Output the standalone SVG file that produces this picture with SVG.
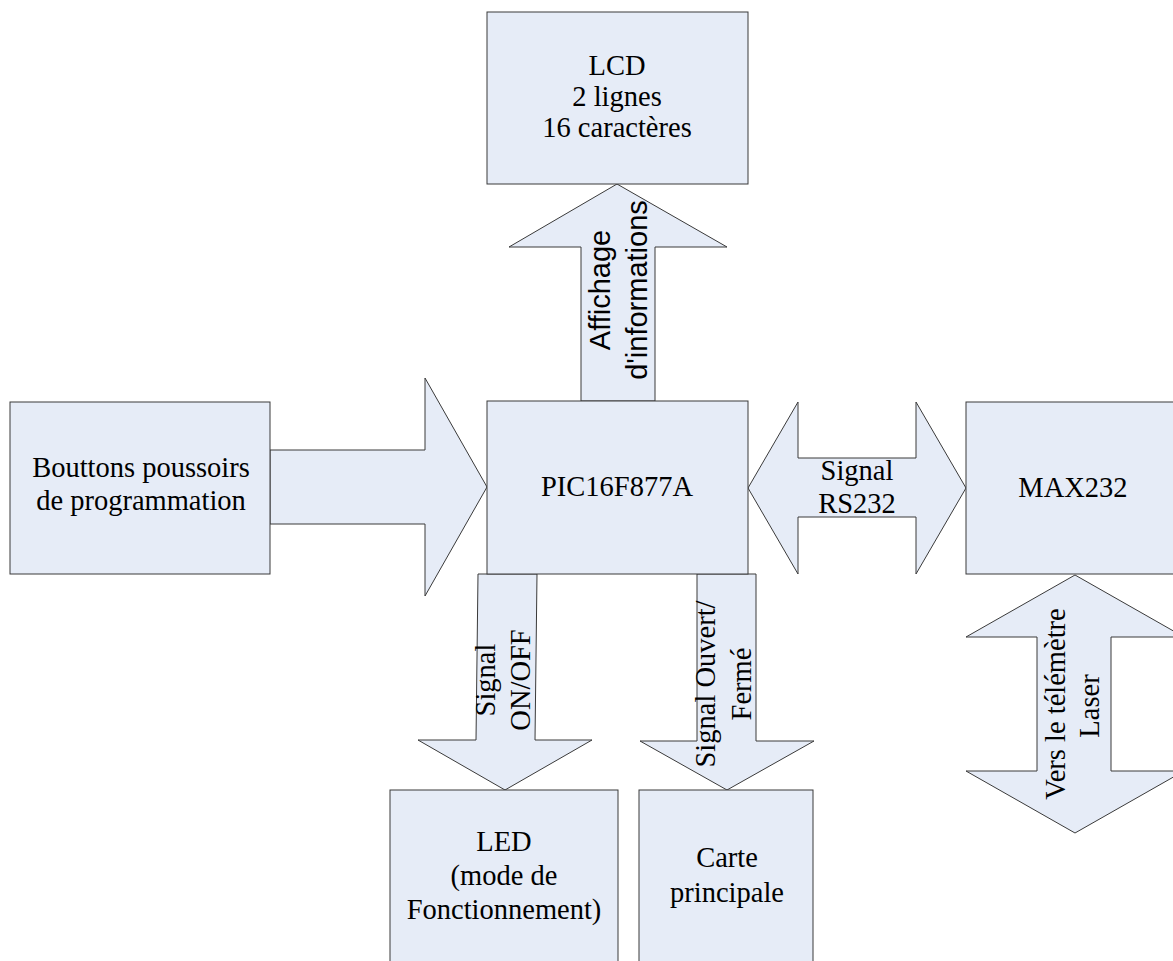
<svg xmlns="http://www.w3.org/2000/svg" width="1173" height="961" viewBox="0 0 1173 961">
<style>
.shape{fill:#E6ECF7;stroke:#3a3a3a;stroke-width:1}
.t{font-family:"Liberation Serif","Times New Roman",serif;font-size:28.5px;fill:#000;text-anchor:middle}
.s{font-family:"Liberation Sans",Arial,sans-serif;font-size:29px;fill:#000;text-anchor:middle}
</style>
<rect width="1173" height="961" fill="#fff"/>
<g id="connectors">
  <g id="arrow-affichage">
    <polygon class="shape" points="581,401 581,247 509,247 617,184 727,247 655,247 655,401"/>
    <g transform="translate(610,290) rotate(-90)"><text class="s" x="0" y="0">Affichage</text></g>
    <g transform="translate(647,290) rotate(-90)"><text class="s" x="0" y="0">d'informations</text></g>
  </g>
  <g id="arrow-boutons">
    <polygon class="shape" points="270,450 425,450 425,378 487,487 425,596 425,524 270,524"/>
  </g>
  <g id="arrow-rs232">
    <polygon class="shape" points="748,488 798,402 798,458 916,458 916,402 966,488 916,574 916,517 798,517 798,574"/>
    <text class="t" x="857" y="480">Signal</text>
    <text class="t" x="857" y="513">RS232</text>
  </g>
  <g id="arrow-onoff">
    <polygon class="shape" points="478,574 537,574 535,740 592,740 505,790 418,740 476,740"/>
    <g transform="translate(495,680) rotate(-90)"><text class="t" x="0" y="0">Signal</text></g>
    <g transform="translate(530,680) rotate(-90)"><text class="t" x="0" y="0">ON/OFF</text></g>
  </g>
  <g id="arrow-ouvert">
    <polygon class="shape" points="697,574 756,574 756,741 814,741 727,790 640,741 697,741"/>
    <g transform="translate(715,684) rotate(-90)"><text class="t" x="0" y="0">Signal Ouvert/</text></g>
    <g transform="translate(751,684) rotate(-90)"><text class="t" x="0" y="0">Fermé</text></g>
  </g>
  <g id="arrow-laser">
    <polygon class="shape" points="1075,575 1184,637 1111,637 1111,771 1184,771 1075,833 966,771 1037,771 1037,637 966,637"/>
    <g transform="translate(1065,704) rotate(-90)"><text class="t" x="0" y="0">Vers le télémètre</text></g>
    <g transform="translate(1099,706) rotate(-90)"><text class="t" x="0" y="0">Laser</text></g>
  </g>
</g>
<g id="node-lcd">
  <rect class="shape" x="487" y="12" width="261" height="172"/>
  <text class="t" x="617" y="75">LCD</text>
  <text class="t" x="617" y="106">2 lignes</text>
  <text class="t" x="617" y="137">16 caractères</text>
</g>
<g id="node-boutons">
  <rect class="shape" x="10" y="402" width="260" height="172"/>
  <text class="t" x="141" y="477">Bouttons poussoirs</text>
  <text class="t" x="141" y="510">de programmation</text>
</g>
<g id="node-pic">
  <rect class="shape" x="487" y="401" width="261" height="173"/>
  <text class="t" x="617" y="496">PIC16F877A</text>
</g>
<g id="node-max232">
  <rect class="shape" x="966" y="402" width="220" height="172"/>
  <text class="t" x="1073" y="497">MAX232</text>
</g>
<g id="node-led">
  <rect class="shape" x="390" y="790" width="228" height="200"/>
  <text class="t" x="504" y="851">LED</text>
  <text class="t" x="504" y="885"> (mode de</text>
  <text class="t" x="504" y="919">Fonctionnement)</text>
</g>
<g id="node-carte">
  <rect class="shape" x="639" y="790" width="174" height="200"/>
  <text class="t" x="727" y="867">Carte</text>
  <text class="t" x="727" y="902">principale</text>
</g>
</svg>
